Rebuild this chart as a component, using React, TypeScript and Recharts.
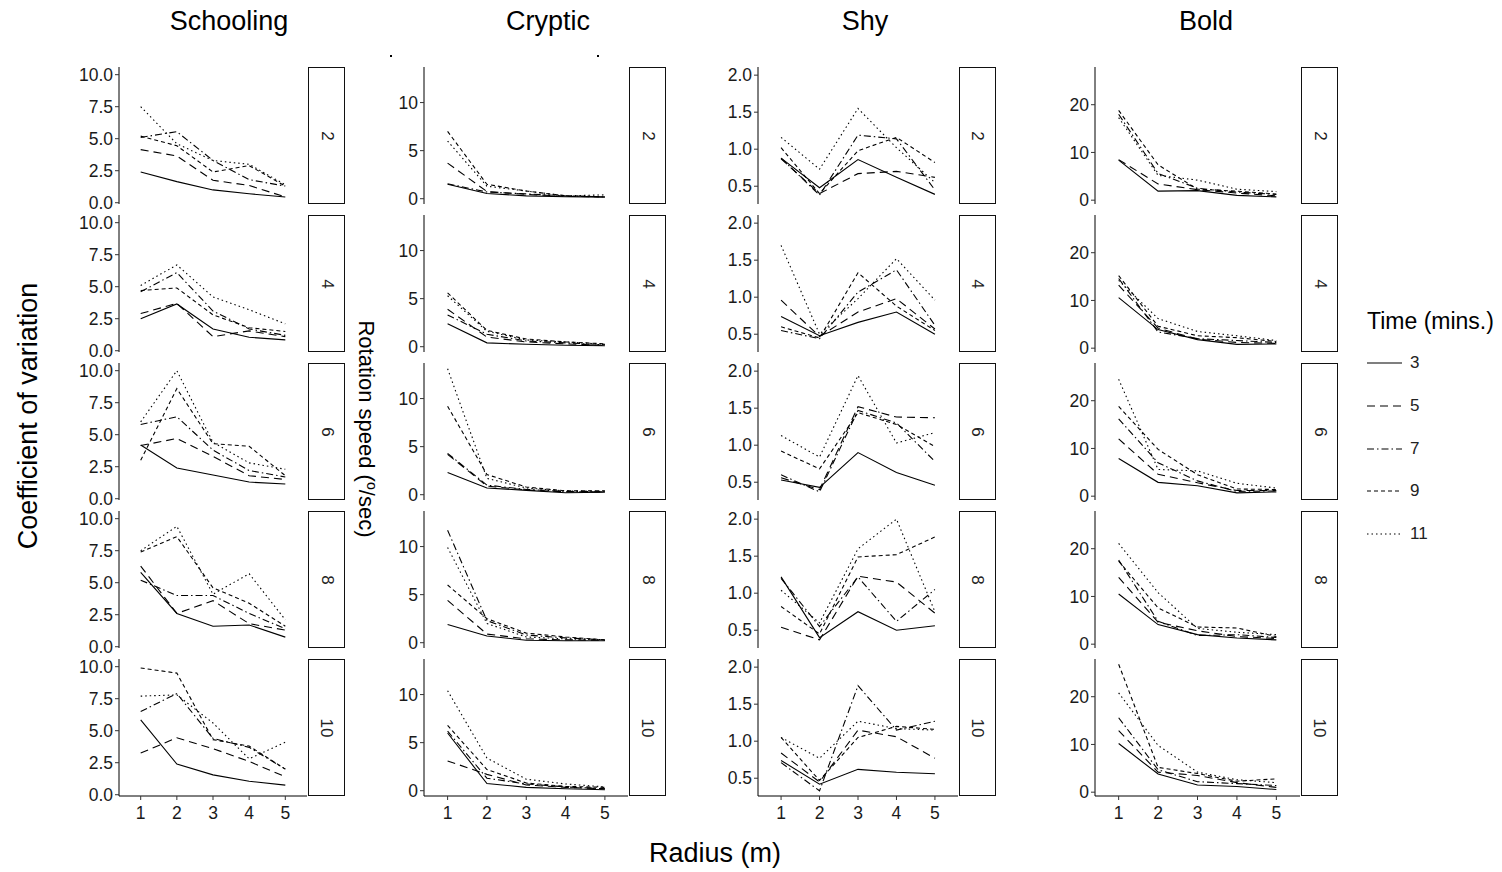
import { LineChart, Line, XAxis, YAxis } from 'recharts'

const radius = [1, 2, 3, 4, 5]
const times = [3, 5, 7, 9, 11]
const groupSizes = [2, 4, 6, 8, 10]

// values per panel: [group size][time][radius]
const schooling = [
  [
    [2.4, 1.65, 1.0, 0.7, 0.45],
    [4.15, 3.65, 1.75, 1.35, 0.45],
    [5.1, 5.55, 3.3, 1.8, 1.3],
    [5.2, 4.45, 2.4, 2.9, 1.3],
    [7.5, 4.6, 3.3, 3.0, 1.4],
  ],
  [
    [2.5, 3.65, 1.7, 1.05, 0.85],
    [2.9, 3.7, 1.1, 1.55, 1.1],
    [4.6, 6.1, 3.1, 1.7, 1.2],
    [4.7, 4.9, 2.8, 1.8, 1.5],
    [5.1, 6.7, 4.2, 3.2, 2.1],
  ],
  [
    [4.2, 2.4, 1.85, 1.3, 1.15],
    [4.15, 4.7, 3.3, 1.8, 1.5],
    [5.8, 6.4, 3.8, 2.2, 1.7],
    [3.0, 8.6, 4.3, 4.1, 1.8],
    [6.0, 10.0, 4.4, 2.8, 2.3],
  ],
  [
    [5.8, 2.6, 1.6, 1.7, 0.75],
    [6.3, 2.6, 3.6, 1.8, 1.3],
    [5.2, 4.0, 4.0, 2.6, 1.4],
    [7.4, 8.6, 4.6, 3.4, 1.6],
    [7.5, 9.4, 4.1, 5.7, 2.1],
  ],
  [
    [5.85, 2.4, 1.55, 1.05, 0.75],
    [3.25, 4.45, 3.6, 2.6, 1.4],
    [6.5, 7.9, 4.4, 3.7, 2.0],
    [9.9, 9.5, 4.3, 3.8, 2.0],
    [7.7, 7.8, 5.6, 2.8, 4.1],
  ],
]

const cryptic = [
  [
    [1.5, 0.55, 0.3, 0.2, 0.15],
    [3.7, 0.75, 0.45, 0.25, 0.2],
    [1.55, 0.7, 0.5, 0.3, 0.2],
    [7.0, 1.5, 0.8, 0.3, 0.2],
    [6.0, 1.3, 0.8, 0.3, 0.4],
  ],
  [
    [2.4, 0.4, 0.25, 0.15, 0.1],
    [3.9, 1.0, 0.5, 0.3, 0.15],
    [3.3, 1.3, 0.6, 0.4, 0.2],
    [5.6, 1.7, 0.8, 0.5, 0.3],
    [5.3, 1.6, 0.7, 0.5, 0.25],
  ],
  [
    [2.3, 0.7, 0.45, 0.2, 0.25],
    [4.2, 0.9, 0.5, 0.3, 0.3],
    [4.3, 1.0, 0.55, 0.35, 0.3],
    [9.2, 2.1, 0.8, 0.4, 0.4],
    [13.1, 1.7, 0.7, 0.4, 0.35],
  ],
  [
    [1.9, 0.7, 0.25, 0.2, 0.2],
    [4.4, 0.9, 0.4, 0.3, 0.25],
    [11.7, 2.3, 0.8, 0.5, 0.3],
    [6.0, 2.5, 1.0, 0.6, 0.3],
    [9.9, 2.0, 0.6, 0.4, 0.3],
  ],
  [
    [6.0, 0.75, 0.35, 0.2, 0.1],
    [3.1, 1.7, 0.6, 0.35, 0.2],
    [6.2, 1.3, 0.7, 0.4, 0.2],
    [6.8, 2.2, 0.8, 0.45, 0.35],
    [10.4, 3.4, 1.2, 0.7, 0.4],
  ],
]

const shy = [
  [
    [0.88, 0.48, 0.86, 0.62, 0.39],
    [0.87, 0.4, 0.67, 0.7, 0.62],
    [0.88, 0.38, 1.19, 1.14, 0.45],
    [1.02, 0.4, 0.98, 1.16, 0.82],
    [1.16, 0.73, 1.55, 1.02, 0.55],
  ],
  [
    [0.74, 0.48, 0.66, 0.8, 0.5],
    [0.96, 0.47, 0.8, 0.98, 0.57],
    [0.55, 0.44, 1.07, 1.37, 0.62],
    [0.6, 0.45, 1.33, 0.88, 0.55],
    [1.7, 0.5, 0.98, 1.52, 0.96],
  ],
  [
    [0.53, 0.43, 0.9, 0.63, 0.46],
    [0.56, 0.4, 1.52, 1.38, 1.37],
    [0.6, 0.37, 1.47, 1.3, 0.78],
    [0.92, 0.68, 1.44, 1.28, 0.98],
    [1.13, 0.84, 1.94, 1.03, 1.17],
  ],
  [
    [1.22, 0.4, 0.75, 0.5, 0.56],
    [0.54, 0.37, 1.23, 1.15, 0.73],
    [1.2, 0.55, 1.22, 0.62, 1.05],
    [0.82, 0.45, 1.49, 1.52, 1.76],
    [1.04, 0.6, 1.6, 2.0, 0.75],
  ],
  [
    [0.74, 0.42, 0.62, 0.58, 0.56],
    [0.84, 0.45, 1.15, 1.06, 0.77],
    [0.71, 0.33, 1.75, 1.15, 1.27],
    [1.05, 0.47, 1.05, 1.2, 1.16],
    [1.05, 0.77, 1.27, 1.17, 1.15],
  ],
]

const bold = [
  [
    [8.4, 1.9, 2.0, 1.0, 0.7],
    [8.5, 3.4, 2.2, 1.5, 0.9],
    [18.0, 5.6, 2.5, 1.7, 1.2],
    [18.8, 7.4, 2.3, 1.9, 1.3],
    [17.3, 5.2, 4.2, 2.3, 1.8],
  ],
  [
    [10.6, 3.9, 1.8, 0.8, 0.9],
    [13.2, 4.2, 1.9, 1.2, 1.0],
    [14.6, 3.4, 2.0, 1.6, 1.2],
    [15.2, 4.6, 2.6, 2.2, 1.4],
    [14.2, 6.2, 3.5, 2.6, 1.6],
  ],
  [
    [7.9, 2.9, 2.2, 0.7, 0.9],
    [12.0, 4.6, 2.8, 1.2, 1.2],
    [16.2, 7.0, 3.2, 1.0, 1.1],
    [18.8, 9.8, 4.5, 1.5, 1.4],
    [24.5, 5.6, 5.3, 2.7, 1.7],
  ],
  [
    [10.5, 4.1, 2.0, 1.3, 0.9],
    [14.0, 4.6, 2.8, 1.6, 1.2],
    [17.6, 4.8, 1.8, 2.0, 1.4],
    [17.4, 7.6, 3.6, 3.4, 1.6],
    [21.1, 10.8, 3.3, 2.5, 2.0],
  ],
  [
    [10.2, 3.8, 1.5, 1.2, 0.55],
    [12.9, 4.2, 3.5, 2.0, 1.0],
    [15.6, 4.7, 2.2, 1.8, 1.4],
    [26.8, 5.2, 3.9, 2.3, 2.8],
    [20.8, 9.8, 4.2, 2.6, 2.0],
  ],
]

const schoolingTicks = [0, 2.5, 5, 7.5, 10]
const crypticTicks = [0, 5, 10]
const shyTicks = [0.5, 1, 1.5, 2]
const boldTicks = [0, 10, 20]

// layout
const columns = [
  { name: 'Schooling', values: schooling, ticks: schoolingTicks, decimals: 1, domain: [-0.1, 10.6], axisX: 119, plotW: 188, titleX: 229 },
  { name: 'Cryptic', values: cryptic, ticks: crypticTicks, decimals: 0, domain: [-0.55, 13.7], axisX: 423.5, plotW: 204.5, titleX: 548 },
  { name: 'Shy', values: shy, ticks: shyTicks, decimals: 1, domain: [0.26, 2.11], axisX: 757.5, plotW: 200, titleX: 865 },
  { name: 'Bold', values: bold, ticks: boldTicks, decimals: 0, domain: [-0.8, 27.9], axisX: 1095, plotW: 205, titleX: 1206 },
]

const dashes = [undefined, '8 5', '7 3 1.5 3', '4 3', '1.5 3']
const rowTops = [67, 215, 363, 511, 659]
const panelH = 137
const pad = 12
const yAxisW = 60
const stripW = 37
const font = '"Liberation Sans", Arial, Helvetica, sans-serif'

function Panel({ col, row }: { col: any; row: number }) {
  const last = row === groupSizes.length - 1
  const data = radius.map((r, i) => {
    const d: any = { radius: r }
    times.forEach((t, k) => {
      d['t' + t] = col.values[row][k][i]
    })
    return d
  })
  return (
    <div style={{ position: 'absolute', left: col.axisX - yAxisW, top: rowTops[row] - pad }}>
      <LineChart
        width={yAxisW + col.plotW}
        height={panelH + pad * 2 + (last ? 40 : 0)}
        data={data}
        margin={{ top: pad, right: 0, bottom: pad, left: 0 }}
      >
        <XAxis
          type="number"
          dataKey="radius"
          domain={[0.4, 5.6]}
          ticks={radius}
          hide={!last}
          height={40}
          tickSize={4}
          tickMargin={7}
          axisLine={{ stroke: '#000' }}
          tickLine={{ stroke: '#333' }}
          tick={{ fill: '#1a1a1a', fontSize: 17.5, fontFamily: font }}
          allowDataOverflow
        />
        <YAxis
          type="number"
          domain={col.domain}
          ticks={col.ticks}
          interval={0}
          width={yAxisW}
          tickSize={4}
          tickMargin={2}
          axisLine={{ stroke: '#000' }}
          tickLine={{ stroke: '#333' }}
          tick={{ fill: '#1a1a1a', fontSize: 17.5, fontFamily: font }}
          tickFormatter={(v: number) => v.toFixed(col.decimals)}
          allowDataOverflow
        />
        {times.map((t, k) => (
          <Line
            key={t}
            type="linear"
            dataKey={'t' + t}
            stroke="#000"
            strokeWidth={1.1}
            strokeDasharray={dashes[k]}
            dot={false}
            isAnimationActive={false}
          />
        ))}
      </LineChart>
    </div>
  )
}

function Strip({ col, row }: { col: any; row: number }) {
  return (
    <div
      style={{
        position: 'absolute',
        left: col.axisX + col.plotW + 1,
        top: rowTops[row],
        width: stripW,
        height: panelH,
        boxSizing: 'border-box',
        border: '1.3px solid #111',
        background: '#fff',
        display: 'flex',
        alignItems: 'center',
        justifyContent: 'center',
      }}
    >
      <span style={{ transform: 'rotate(90deg)', fontSize: 17, color: '#222', whiteSpace: 'nowrap' }}>
        {groupSizes[row]}
      </span>
    </div>
  )
}

export default function App() {
  return (
    <div
      style={{
        position: 'absolute',
        left: 0,
        top: 0,
        width: 1502,
        height: 872,
        background: '#fff',
        fontFamily: font,
        color: '#000',
        overflow: 'hidden',
      }}
    >
      {columns.map((c) => (
        <div
          key={c.name}
          style={{ position: 'absolute', left: c.titleX - 150, width: 300, top: 6, textAlign: 'center', fontSize: 27 }}
        >
          {c.name}
        </div>
      ))}

      {columns.map((c) =>
        groupSizes.map((g, r) => (
          <div key={c.name + g}>
            <Panel col={c} row={r} />
            <Strip col={c} row={r} />
          </div>
        ))
      )}

      <div style={{ position: 'absolute', left: 390, top: 55, width: 2, height: 2, background: '#000' }} />
      <div style={{ position: 'absolute', left: 597, top: 55, width: 2, height: 2, background: '#000' }} />

      <div
        style={{
          position: 'absolute',
          left: 28 - 250,
          top: 416 - 16,
          width: 500,
          height: 32,
          lineHeight: '32px',
          textAlign: 'center',
          fontSize: 27,
          transform: 'rotate(-90deg)',
        }}
      >
        Coefficient of variation
      </div>

      <div
        style={{
          position: 'absolute',
          left: 372 - 200,
          top: 429 - 14,
          width: 400,
          height: 28,
          lineHeight: '28px',
          textAlign: 'center',
          fontSize: 22,
          transform: 'rotate(90deg)',
        }}
      >
        Rotation speed (<span style={{ fontSize: '0.65em', verticalAlign: 'super' }}>o</span>/sec)
      </div>

      <div style={{ position: 'absolute', left: 565, width: 300, top: 838, textAlign: 'center', fontSize: 27 }}>
        Radius (m)
      </div>

      <div style={{ position: 'absolute', left: 1367, top: 308, fontSize: 23 }}>Time (mins.)</div>
      {times.map((t, k) => (
        <div key={t} style={{ position: 'absolute', left: 1367, top: 363 + k * 42.75 - 12, height: 24 }}>
          <svg width={36} height={24} style={{ position: 'absolute', left: 0, top: 0 }}>
            <line x1={0} x2={35} y1={12} y2={12} stroke="#000" strokeWidth={1.1} strokeDasharray={dashes[k]} />
          </svg>
          <span style={{ position: 'absolute', left: 43, top: 2, fontSize: 17, color: '#222', lineHeight: '20px' }}>{t}</span>
        </div>
      ))}
    </div>
  )
}
